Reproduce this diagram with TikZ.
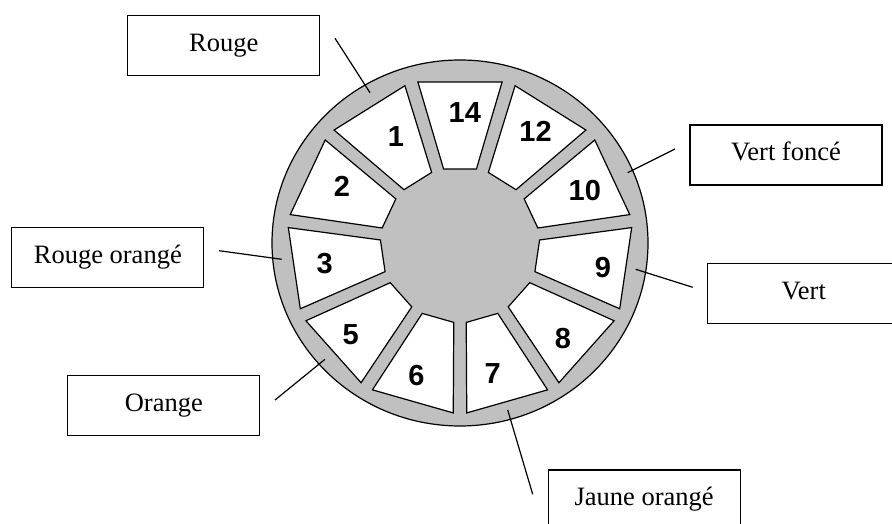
\documentclass[tikz,border=0pt]{standalone}
\usepackage{fontspec}
\setmainfont{Liberation Serif}
\newfontfamily\numfont{Liberation Sans}
\definecolor{ringgray}{RGB}{192,192,192}

\begin{document}
\begin{tikzpicture}[x=1pt, y=1pt, line width=1.2pt,
    colbox/.style={draw, minimum width=192pt, minimum height=60pt, inner sep=0pt,
      text height=18pt, text depth=6pt, font=\fontsize{26.5}{30}\selectfont},
    segnum/.style={font=\fontsize{29}{32}\numfont\bfseries}]
  \clip (0,0) rectangle (892,524);
  % wheel
  \draw[fill=ringgray] (460,281) ellipse (188 and 183);
  \begin{scope}[shift={(460,279)}, xscale=1.027]
    \foreach \n/\b/\r [count=\k from 0] in {14/88/133, 12/57/135, 10/24/133, 9/-9/141,
        8/-43/137, 7/-76/132, 6/-108/137, 5/-140/139, 3/188/133, 2/153/129, 1/120/125}{
      \pgfmathsetmacro{\a}{90-\k*360/11}
      \draw[fill=white, rotate=\a] (76,-16) -- (163,-41) -- (163,41) -- (76,16) -- cycle;
      \node[segnum] (n\n) at (\b:\r) {\n};
    }
  \end{scope}
  % colour boxes
  \node[colbox] (rouge) at (223.8,478.7) {Rouge};
  \node[colbox] (vertfonce) at (786,369) {Vert foncé};
  \node[colbox] (vert) at (803.8,230.7) {Vert};
  \node[colbox] (rougeor) at (107.8,266.7) {Rouge orangé};
  \node[colbox] (orange) at (163.8,118.7) {Orange};
  \node[colbox] (jauneor) at (644.2,24) {Jaune orangé};
  % leader lines
  \node[coordinate] (rouge-a) at (335,485.7) {};
  \node[coordinate] (rouge-b) at (370,431.3) {};
  \node[coordinate] (vertfonce-a) at (675,375) {};
  \node[coordinate] (vertfonce-b) at (627.7,351.3) {};
  \node[coordinate] (vert-a) at (692.7,236.7) {};
  \node[coordinate] (vert-b) at (635.7,254.7) {};
  \node[coordinate] (rougeor-a) at (219,273.3) {};
  \node[coordinate] (rougeor-b) at (281.7,264.7) {};
  \node[coordinate] (orange-a) at (275,124) {};
  \node[coordinate] (orange-b) at (325,164.7) {};
  \node[coordinate] (jauneor-a) at (532.7,29.7) {};
  \node[coordinate] (jauneor-b) at (507.7,114) {};
  \foreach \c in {rouge, vertfonce, vert, rougeor, orange, jauneor}
    \draw (\c-a) -- (\c-b);
\end{tikzpicture}
\end{document}
